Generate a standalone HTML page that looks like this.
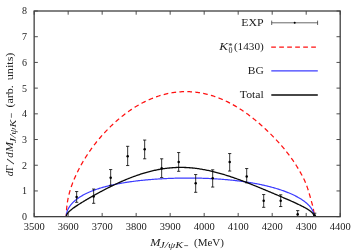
<!DOCTYPE html>
<html><head><meta charset="utf-8"><title>plot</title>
<style>
html,body{margin:0;padding:0;background:#fff;}
body{width:360px;height:252px;overflow:hidden;font-family:"Liberation Serif",serif;}
svg{display:block;will-change:transform;}
text{font-family:"Liberation Serif",serif;fill:#1c1c1c;}
.i{font-style:italic;}
</style></head><body>
<svg width="360" height="252" viewBox="0 0 360 252">
<rect width="360" height="252" fill="#fff"/>
<path d="M34.15,216.65 v-3.7 M34.15,11.0 v3.7 M68.16,216.65 v-3.7 M68.16,11.0 v3.7 M102.16,216.65 v-3.7 M102.16,11.0 v3.7 M136.17,216.65 v-3.7 M136.17,11.0 v3.7 M170.17,216.65 v-3.7 M170.17,11.0 v3.7 M204.18,216.65 v-3.7 M204.18,11.0 v3.7 M238.18,216.65 v-3.7 M238.18,11.0 v3.7 M272.19,216.65 v-3.7 M272.19,11.0 v3.7 M306.19,216.65 v-3.7 M306.19,11.0 v3.7 M340.20,216.65 v-3.7 M340.20,11.0 v3.7 M34.15,216.65 h3.7 M340.2,216.65 h-3.7 M34.15,190.94 h3.7 M340.2,190.94 h-3.7 M34.15,165.24 h3.7 M340.2,165.24 h-3.7 M34.15,139.53 h3.7 M340.2,139.53 h-3.7 M34.15,113.83 h3.7 M340.2,113.83 h-3.7 M34.15,88.12 h3.7 M340.2,88.12 h-3.7 M34.15,62.41 h3.7 M340.2,62.41 h-3.7 M34.15,36.71 h3.7 M340.2,36.71 h-3.7 M34.15,11.00 h3.7 M340.2,11.00 h-3.7" stroke="#000" stroke-width="0.7" fill="none"/>
<path d="M66.30,216.65 L66.30,215.79 L66.32,214.94 L66.33,214.08 L66.36,213.23 L66.40,212.37 L66.44,211.52 L66.49,210.67 L66.55,209.81 L66.61,208.96 L66.68,208.12 L66.76,207.27 L66.85,206.43 L66.95,205.58 L67.05,204.74 L67.16,203.90 L67.28,203.07 L67.41,202.24 L67.54,201.40 L67.68,200.58 L67.83,199.75 L67.99,198.92 L68.15,198.10 L68.33,197.28 L68.51,196.47 L68.69,195.65 L68.89,194.84 L69.09,194.03 L69.30,193.22 L69.52,192.42 L69.74,191.61 L69.97,190.81 L70.21,190.01 L70.46,189.20 L70.71,188.40 L70.97,187.61 L71.24,186.81 L71.52,186.01 L71.80,185.21 L72.10,184.41 L72.39,183.61 L72.70,182.81 L73.01,182.01 L73.33,181.21 L73.66,180.41 L74.00,179.61 L74.34,178.80 L74.69,177.99 L75.04,177.18 L75.41,176.37 L75.78,175.56 L76.16,174.74 L76.54,173.92 L76.93,173.10 L77.33,172.27 L77.74,171.45 L78.15,170.62 L78.57,169.79 L79.00,168.95 L79.43,168.12 L79.87,167.28 L80.32,166.44 L80.77,165.61 L81.23,164.77 L81.70,163.93 L82.18,163.09 L82.66,162.25 L83.14,161.42 L83.64,160.58 L84.14,159.74 L84.65,158.91 L85.16,158.08 L85.68,157.24 L86.21,156.41 L86.74,155.58 L87.28,154.75 L87.83,153.92 L88.38,153.09 L88.94,152.27 L89.51,151.44 L90.08,150.62 L90.66,149.80 L91.24,148.98 L91.83,148.16 L92.43,147.35 L93.03,146.54 L93.64,145.72 L94.25,144.92 L94.87,144.11 L95.50,143.30 L96.13,142.50 L96.77,141.70 L97.41,140.91 L98.06,140.11 L98.71,139.32 L99.37,138.53 L100.04,137.75 L100.71,136.97 L101.39,136.19 L102.07,135.41 L102.76,134.64 L103.46,133.87 L104.16,133.10 L104.86,132.34 L105.57,131.58 L106.28,130.83 L107.01,130.08 L107.73,129.33 L108.46,128.59 L109.20,127.85 L109.94,127.11 L110.68,126.38 L111.43,125.66 L112.19,124.94 L112.95,124.22 L113.71,123.51 L114.48,122.80 L115.26,122.10 L116.04,121.40 L116.82,120.71 L117.61,120.03 L118.40,119.35 L119.20,118.67 L120.00,118.00 L120.81,117.34 L121.62,116.68 L122.43,116.03 L123.25,115.39 L124.07,114.75 L124.90,114.12 L125.73,113.50 L126.57,112.88 L127.41,112.27 L128.25,111.66 L129.10,111.06 L129.95,110.47 L130.80,109.89 L131.66,109.31 L132.52,108.75 L133.39,108.18 L134.26,107.63 L135.13,107.09 L136.00,106.55 L136.88,106.02 L137.76,105.50 L138.65,104.99 L139.54,104.48 L140.43,103.98 L141.32,103.50 L142.22,103.02 L143.12,102.55 L144.03,102.08 L144.93,101.63 L145.84,101.19 L146.76,100.75 L147.67,100.33 L148.59,99.91 L149.51,99.51 L150.43,99.11 L151.36,98.72 L152.28,98.34 L153.21,97.97 L154.15,97.61 L155.08,97.26 L156.02,96.93 L156.96,96.60 L157.90,96.28 L158.84,95.97 L159.78,95.67 L160.73,95.38 L161.68,95.10 L162.63,94.83 L163.58,94.58 L164.54,94.33 L165.49,94.09 L166.45,93.87 L167.41,93.65 L168.36,93.45 L169.33,93.25 L170.29,93.07 L171.25,92.90 L172.22,92.74 L173.18,92.59 L174.15,92.45 L175.12,92.32 L176.09,92.20 L177.05,92.09 L178.03,92.00 L179.00,91.91 L179.97,91.84 L180.94,91.78 L181.91,91.73 L182.89,91.69 L183.86,91.66 L184.84,91.64 L185.81,91.63 L186.79,91.64 L187.76,91.65 L188.74,91.68 L189.71,91.72 L190.69,91.77 L191.66,91.83 L192.64,91.90 L193.61,91.98 L194.59,92.07 L195.56,92.18 L196.54,92.30 L197.51,92.42 L198.49,92.56 L199.46,92.71 L200.43,92.87 L201.40,93.04 L202.37,93.23 L203.35,93.42 L204.31,93.62 L205.28,93.84 L206.25,94.07 L207.22,94.30 L208.18,94.55 L209.15,94.81 L210.11,95.08 L211.07,95.36 L212.04,95.65 L212.99,95.95 L213.95,96.26 L214.91,96.58 L215.86,96.92 L216.82,97.26 L217.77,97.61 L218.72,97.97 L219.67,98.35 L220.62,98.73 L221.56,99.12 L222.50,99.53 L223.44,99.94 L224.38,100.36 L225.32,100.79 L226.25,101.23 L227.19,101.68 L228.12,102.14 L229.04,102.61 L229.97,103.09 L230.89,103.57 L231.81,104.07 L232.73,104.57 L233.64,105.09 L234.56,105.61 L235.47,106.14 L236.37,106.67 L237.28,107.22 L238.18,107.77 L239.08,108.34 L239.97,108.91 L240.86,109.48 L241.75,110.07 L242.64,110.66 L243.52,111.26 L244.40,111.87 L245.27,112.48 L246.14,113.10 L247.01,113.73 L247.88,114.36 L248.74,115.00 L249.60,115.65 L250.45,116.30 L251.30,116.96 L252.15,117.62 L252.99,118.28 L253.83,118.96 L254.67,119.63 L255.50,120.31 L256.33,121.00 L257.15,121.69 L257.97,122.38 L258.78,123.08 L259.59,123.78 L260.40,124.48 L261.20,125.19 L262.00,125.90 L262.79,126.62 L263.58,127.33 L264.36,128.05 L265.14,128.77 L265.92,129.50 L266.69,130.23 L267.45,130.95 L268.21,131.69 L268.97,132.42 L269.72,133.15 L270.46,133.89 L271.20,134.63 L271.94,135.37 L272.67,136.11 L273.39,136.85 L274.12,137.59 L274.83,138.34 L275.54,139.08 L276.24,139.83 L276.94,140.58 L277.64,141.33 L278.33,142.09 L279.01,142.84 L279.69,143.60 L280.36,144.36 L281.03,145.12 L281.69,145.88 L282.34,146.64 L282.99,147.41 L283.63,148.18 L284.27,148.95 L284.90,149.72 L285.53,150.50 L286.15,151.27 L286.76,152.05 L287.37,152.83 L287.97,153.61 L288.57,154.40 L289.16,155.18 L289.74,155.97 L290.32,156.75 L290.89,157.54 L291.46,158.33 L292.02,159.12 L292.57,159.92 L293.12,160.71 L293.66,161.50 L294.19,162.30 L294.72,163.09 L295.24,163.89 L295.75,164.68 L296.26,165.48 L296.76,166.28 L297.26,167.07 L297.74,167.87 L298.22,168.67 L298.70,169.46 L299.17,170.26 L299.63,171.05 L300.08,171.84 L300.53,172.64 L300.97,173.43 L301.40,174.22 L301.83,175.01 L302.25,175.80 L302.66,176.58 L303.07,177.37 L303.47,178.17 L303.86,178.97 L304.24,179.78 L304.62,180.61 L304.99,181.44 L305.36,182.29 L305.71,183.16 L306.06,184.03 L306.40,184.92 L306.74,185.82 L307.07,186.74 L307.39,187.66 L307.70,188.59 L308.01,189.52 L308.30,190.46 L308.60,191.41 L308.88,192.35 L309.16,193.29 L309.43,194.22 L309.69,195.14 L309.94,196.04 L310.19,196.92 L310.43,197.77 L310.66,198.59 L310.88,199.39 L311.10,200.16 L311.31,200.91 L311.51,201.63 L311.71,202.33 L311.89,203.00 L312.07,203.66 L312.25,204.29 L312.41,204.91 L312.57,205.51 L312.72,206.10 L312.86,206.68 L312.99,207.25 L313.12,207.81 L313.24,208.37 L313.35,208.92 L313.45,209.47 L313.55,210.02 L313.64,210.56 L313.72,211.11 L313.79,211.66 L313.85,212.21 L313.91,212.76 L313.96,213.31 L314.00,213.86 L314.04,214.42 L314.07,214.97 L314.08,215.53 L314.10,216.09 L314.10,216.65" stroke="#ff1010" stroke-width="1.25" stroke-dasharray="4.682 3.287" stroke-dashoffset="1.66" fill="none"/>
<path d="M66.30,216.65 L66.30,216.30 L66.32,215.95 L66.33,215.60 L66.36,215.25 L66.40,214.90 L66.44,214.55 L66.49,214.20 L66.55,213.85 L66.61,213.51 L66.68,213.16 L66.76,212.81 L66.85,212.46 L66.95,212.12 L67.05,211.77 L67.16,211.42 L67.28,211.08 L67.41,210.73 L67.54,210.39 L67.68,210.05 L67.83,209.70 L67.99,209.36 L68.15,209.02 L68.33,208.68 L68.51,208.34 L68.69,208.01 L68.89,207.67 L69.09,207.33 L69.30,207.00 L69.52,206.67 L69.74,206.33 L69.97,206.00 L70.21,205.67 L70.46,205.34 L70.71,205.01 L70.97,204.69 L71.24,204.36 L71.52,204.04 L71.80,203.72 L72.10,203.40 L72.39,203.08 L72.70,202.76 L73.01,202.44 L73.33,202.13 L73.66,201.81 L74.00,201.50 L74.34,201.19 L74.69,200.88 L75.04,200.58 L75.41,200.27 L75.78,199.97 L76.16,199.67 L76.54,199.37 L76.93,199.07 L77.33,198.77 L77.74,198.48 L78.15,198.19 L78.57,197.90 L79.00,197.61 L79.43,197.32 L79.87,197.04 L80.32,196.75 L80.77,196.47 L81.23,196.19 L81.70,195.92 L82.18,195.64 L82.66,195.37 L83.14,195.10 L83.64,194.83 L84.14,194.56 L84.65,194.30 L85.16,194.04 L85.68,193.78 L86.21,193.52 L86.74,193.26 L87.28,193.01 L87.83,192.76 L88.38,192.51 L88.94,192.26 L89.51,192.01 L90.08,191.77 L90.66,191.53 L91.24,191.29 L91.83,191.06 L92.43,190.82 L93.03,190.59 L93.64,190.36 L94.25,190.13 L94.87,189.91 L95.50,189.69 L96.13,189.47 L96.77,189.25 L97.41,189.03 L98.06,188.82 L98.71,188.61 L99.37,188.40 L100.04,188.19 L100.71,187.98 L101.39,187.78 L102.07,187.58 L102.76,187.38 L103.46,187.19 L104.16,186.99 L104.86,186.80 L105.57,186.61 L106.28,186.43 L107.01,186.24 L107.73,186.06 L108.46,185.88 L109.20,185.70 L109.94,185.52 L110.68,185.35 L111.43,185.18 L112.19,185.01 L112.95,184.84 L113.71,184.68 L114.48,184.51 L115.26,184.35 L116.04,184.20 L116.82,184.04 L117.61,183.88 L118.40,183.73 L119.20,183.58 L120.00,183.44 L120.81,183.29 L121.62,183.15 L122.43,183.00 L123.25,182.87 L124.07,182.73 L124.90,182.59 L125.73,182.46 L126.57,182.33 L127.41,182.20 L128.25,182.07 L129.10,181.95 L129.95,181.83 L130.80,181.71 L131.66,181.59 L132.52,181.47 L133.39,181.36 L134.26,181.24 L135.13,181.13 L136.00,181.02 L136.88,180.92 L137.76,180.81 L138.65,180.71 L139.54,180.61 L140.43,180.51 L141.32,180.41 L142.22,180.32 L143.12,180.23 L144.03,180.14 L144.93,180.05 L145.84,179.96 L146.76,179.88 L147.67,179.79 L148.59,179.71 L149.51,179.63 L150.43,179.56 L151.36,179.48 L152.28,179.41 L153.21,179.34 L154.15,179.27 L155.08,179.20 L156.02,179.13 L156.96,179.07 L157.90,179.01 L158.84,178.95 L159.78,178.89 L160.73,178.83 L161.68,178.78 L162.63,178.73 L163.58,178.68 L164.54,178.63 L165.49,178.58 L166.45,178.54 L167.41,178.50 L168.36,178.45 L169.33,178.42 L170.29,178.38 L171.25,178.34 L172.22,178.31 L173.18,178.28 L174.15,178.25 L175.12,178.22 L176.09,178.20 L177.05,178.17 L178.03,178.15 L179.00,178.13 L179.97,178.11 L180.94,178.10 L181.91,178.08 L182.89,178.07 L183.86,178.06 L184.84,178.06 L185.81,178.05 L186.79,178.05 L187.76,178.04 L188.74,178.04 L189.71,178.04 L190.69,178.05 L191.66,178.05 L192.64,178.06 L193.61,178.07 L194.59,178.08 L195.56,178.10 L196.54,178.11 L197.51,178.13 L198.49,178.15 L199.46,178.17 L200.43,178.20 L201.40,178.22 L202.37,178.25 L203.35,178.28 L204.31,178.31 L205.28,178.35 L206.25,178.39 L207.22,178.42 L208.18,178.46 L209.15,178.51 L210.11,178.55 L211.07,178.60 L212.04,178.65 L212.99,178.70 L213.95,178.75 L214.91,178.81 L215.86,178.86 L216.82,178.92 L217.77,178.99 L218.72,179.05 L219.67,179.12 L220.62,179.18 L221.56,179.25 L222.50,179.33 L223.44,179.40 L224.38,179.48 L225.32,179.56 L226.25,179.64 L227.19,179.72 L228.12,179.81 L229.04,179.90 L229.97,179.99 L230.89,180.08 L231.81,180.17 L232.73,180.27 L233.64,180.37 L234.56,180.47 L235.47,180.57 L236.37,180.68 L237.28,180.79 L238.18,180.90 L239.08,181.01 L239.97,181.12 L240.86,181.24 L241.75,181.36 L242.64,181.48 L243.52,181.60 L244.40,181.73 L245.27,181.85 L246.14,181.98 L247.01,182.12 L247.88,182.25 L248.74,182.39 L249.60,182.52 L250.45,182.67 L251.30,182.81 L252.15,182.95 L252.99,183.10 L253.83,183.25 L254.67,183.40 L255.50,183.56 L256.33,183.71 L257.15,183.87 L257.97,184.03 L258.78,184.19 L259.59,184.36 L260.40,184.52 L261.20,184.69 L262.00,184.86 L262.79,185.04 L263.58,185.21 L264.36,185.39 L265.14,185.57 L265.92,185.75 L266.69,185.93 L267.45,186.12 L268.21,186.30 L268.97,186.49 L269.72,186.68 L270.46,186.88 L271.20,187.07 L271.94,187.27 L272.67,187.47 L273.39,187.67 L274.12,187.87 L274.83,188.08 L275.54,188.29 L276.24,188.50 L276.94,188.71 L277.64,188.92 L278.33,189.13 L279.01,189.35 L279.69,189.57 L280.36,189.79 L281.03,190.01 L281.69,190.23 L282.34,190.46 L282.99,190.69 L283.63,190.92 L284.27,191.15 L284.90,191.38 L285.53,191.61 L286.15,191.85 L286.76,192.09 L287.37,192.33 L287.97,192.57 L288.57,192.81 L289.16,193.05 L289.74,193.30 L290.32,193.54 L290.89,193.79 L291.46,194.04 L292.02,194.29 L292.57,194.55 L293.12,194.80 L293.66,195.06 L294.19,195.32 L294.72,195.57 L295.24,195.83 L295.75,196.10 L296.26,196.36 L296.76,196.62 L297.26,196.89 L297.74,197.16 L298.22,197.42 L298.70,197.69 L299.17,197.96 L299.63,198.24 L300.08,198.51 L300.53,198.78 L300.97,199.06 L301.40,199.33 L301.83,199.61 L302.25,199.89 L302.66,200.17 L303.07,200.45 L303.47,200.73 L303.86,201.02 L304.24,201.30 L304.62,201.59 L304.99,201.87 L305.36,202.16 L305.71,202.45 L306.06,202.73 L306.40,203.02 L306.74,203.31 L307.07,203.61 L307.39,203.90 L307.70,204.19 L308.01,204.48 L308.30,204.78 L308.60,205.07 L308.88,205.37 L309.16,205.67 L309.43,205.96 L309.69,206.26 L309.94,206.56 L310.19,206.86 L310.43,207.16 L310.66,207.46 L310.88,207.76 L311.10,208.06 L311.31,208.36 L311.51,208.67 L311.71,208.97 L311.89,209.27 L312.07,209.58 L312.25,209.88 L312.41,210.19 L312.57,210.49 L312.72,210.80 L312.86,211.10 L312.99,211.41 L313.12,211.72 L313.24,212.02 L313.35,212.33 L313.45,212.64 L313.55,212.95 L313.64,213.25 L313.72,213.56 L313.79,213.87 L313.85,214.18 L313.91,214.49 L313.96,214.80 L314.00,215.10 L314.04,215.41 L314.07,215.72 L314.08,216.03 L314.10,216.34 L314.10,216.65" stroke="#3c3cff" stroke-width="1.2" fill="none"/>
<path d="M66.30,216.65 L66.30,216.47 L66.32,216.29 L66.33,216.11 L66.36,215.93 L66.40,215.75 L66.44,215.57 L66.49,215.39 L66.55,215.21 L66.61,215.03 L66.68,214.85 L66.76,214.66 L66.85,214.48 L66.95,214.29 L67.05,214.11 L67.16,213.92 L67.28,213.74 L67.41,213.55 L67.54,213.36 L67.68,213.17 L67.83,212.97 L67.99,212.78 L68.15,212.59 L68.33,212.39 L68.51,212.19 L68.69,211.99 L68.89,211.79 L69.09,211.59 L69.30,211.39 L69.52,211.18 L69.74,210.97 L69.97,210.77 L70.21,210.55 L70.46,210.34 L70.71,210.13 L70.97,209.91 L71.24,209.69 L71.52,209.47 L71.80,209.24 L72.10,209.02 L72.39,208.79 L72.70,208.56 L73.01,208.33 L73.33,208.09 L73.66,207.85 L74.00,207.61 L74.34,207.37 L74.69,207.13 L75.04,206.88 L75.41,206.63 L75.78,206.38 L76.16,206.12 L76.54,205.87 L76.93,205.61 L77.33,205.34 L77.74,205.08 L78.15,204.81 L78.57,204.54 L79.00,204.27 L79.43,203.99 L79.87,203.71 L80.32,203.43 L80.77,203.15 L81.23,202.86 L81.70,202.57 L82.18,202.28 L82.66,201.98 L83.14,201.69 L83.64,201.39 L84.14,201.08 L84.65,200.78 L85.16,200.47 L85.68,200.16 L86.21,199.85 L86.74,199.53 L87.28,199.22 L87.83,198.90 L88.38,198.57 L88.94,198.25 L89.51,197.92 L90.08,197.59 L90.66,197.26 L91.24,196.93 L91.83,196.59 L92.43,196.25 L93.03,195.91 L93.64,195.57 L94.25,195.23 L94.87,194.88 L95.50,194.53 L96.13,194.18 L96.77,193.83 L97.41,193.48 L98.06,193.13 L98.71,192.77 L99.37,192.41 L100.04,192.05 L100.71,191.69 L101.39,191.33 L102.07,190.97 L102.76,190.61 L103.46,190.24 L104.16,189.88 L104.86,189.51 L105.57,189.14 L106.28,188.78 L107.01,188.41 L107.73,188.04 L108.46,187.67 L109.20,187.30 L109.94,186.93 L110.68,186.57 L111.43,186.20 L112.19,185.83 L112.95,185.46 L113.71,185.09 L114.48,184.72 L115.26,184.36 L116.04,183.99 L116.82,183.63 L117.61,183.26 L118.40,182.90 L119.20,182.54 L120.00,182.18 L120.81,181.82 L121.62,181.46 L122.43,181.10 L123.25,180.75 L124.07,180.40 L124.90,180.05 L125.73,179.70 L126.57,179.35 L127.41,179.01 L128.25,178.67 L129.10,178.33 L129.95,177.99 L130.80,177.66 L131.66,177.33 L132.52,177.01 L133.39,176.68 L134.26,176.36 L135.13,176.05 L136.00,175.74 L136.88,175.43 L137.76,175.12 L138.65,174.82 L139.54,174.53 L140.43,174.23 L141.32,173.95 L142.22,173.66 L143.12,173.39 L144.03,173.11 L144.93,172.84 L145.84,172.58 L146.76,172.32 L147.67,172.07 L148.59,171.82 L149.51,171.58 L150.43,171.35 L151.36,171.12 L152.28,170.89 L153.21,170.67 L154.15,170.46 L155.08,170.26 L156.02,170.06 L156.96,169.86 L157.90,169.68 L158.84,169.50 L159.78,169.32 L160.73,169.16 L161.68,169.00 L162.63,168.85 L163.58,168.70 L164.54,168.56 L165.49,168.43 L166.45,168.31 L167.41,168.19 L168.36,168.09 L169.33,167.99 L170.29,167.89 L171.25,167.81 L172.22,167.73 L173.18,167.66 L174.15,167.60 L175.12,167.55 L176.09,167.51 L177.05,167.47 L178.03,167.44 L179.00,167.42 L179.97,167.41 L180.94,167.41 L181.91,167.41 L182.89,167.43 L183.86,167.45 L184.84,167.48 L185.81,167.52 L186.79,167.56 L187.76,167.62 L188.74,167.68 L189.71,167.75 L190.69,167.83 L191.66,167.92 L192.64,168.01 L193.61,168.11 L194.59,168.22 L195.56,168.34 L196.54,168.46 L197.51,168.59 L198.49,168.73 L199.46,168.88 L200.43,169.03 L201.40,169.19 L202.37,169.35 L203.35,169.52 L204.31,169.70 L205.28,169.89 L206.25,170.08 L207.22,170.27 L208.18,170.48 L209.15,170.69 L210.11,170.90 L211.07,171.12 L212.04,171.35 L212.99,171.58 L213.95,171.81 L214.91,172.05 L215.86,172.30 L216.82,172.55 L217.77,172.81 L218.72,173.07 L219.67,173.33 L220.62,173.60 L221.56,173.87 L222.50,174.15 L223.44,174.43 L224.38,174.71 L225.32,175.00 L226.25,175.29 L227.19,175.59 L228.12,175.89 L229.04,176.19 L229.97,176.49 L230.89,176.80 L231.81,177.11 L232.73,177.42 L233.64,177.73 L234.56,178.05 L235.47,178.37 L236.37,178.69 L237.28,179.01 L238.18,179.33 L239.08,179.66 L239.97,179.98 L240.86,180.31 L241.75,180.64 L242.64,180.97 L243.52,181.30 L244.40,181.64 L245.27,181.97 L246.14,182.31 L247.01,182.64 L247.88,182.98 L248.74,183.31 L249.60,183.65 L250.45,183.98 L251.30,184.32 L252.15,184.66 L252.99,184.99 L253.83,185.33 L254.67,185.66 L255.50,186.00 L256.33,186.33 L257.15,186.67 L257.97,187.00 L258.78,187.33 L259.59,187.66 L260.40,187.99 L261.20,188.32 L262.00,188.65 L262.79,188.98 L263.58,189.31 L264.36,189.63 L265.14,189.96 L265.92,190.28 L266.69,190.60 L267.45,190.92 L268.21,191.24 L268.97,191.56 L269.72,191.87 L270.46,192.19 L271.20,192.50 L271.94,192.81 L272.67,193.12 L273.39,193.43 L274.12,193.73 L274.83,194.03 L275.54,194.34 L276.24,194.64 L276.94,194.93 L277.64,195.23 L278.33,195.52 L279.01,195.81 L279.69,196.10 L280.36,196.39 L281.03,196.68 L281.69,196.96 L282.34,197.24 L282.99,197.52 L283.63,197.80 L284.27,198.07 L284.90,198.35 L285.53,198.62 L286.15,198.89 L286.76,199.15 L287.37,199.42 L287.97,199.68 L288.57,199.94 L289.16,200.20 L289.74,200.46 L290.32,200.71 L290.89,200.97 L291.46,201.22 L292.02,201.47 L292.57,201.71 L293.12,201.96 L293.66,202.20 L294.19,202.44 L294.72,202.68 L295.24,202.92 L295.75,203.15 L296.26,203.39 L296.76,203.62 L297.26,203.85 L297.74,204.08 L298.22,204.30 L298.70,204.53 L299.17,204.75 L299.63,204.97 L300.08,205.19 L300.53,205.41 L300.97,205.63 L301.40,205.84 L301.83,206.06 L302.25,206.27 L302.66,206.48 L303.07,206.69 L303.47,206.89 L303.86,207.10 L304.24,207.31 L304.62,207.51 L304.99,207.71 L305.36,207.91 L305.71,208.11 L306.06,208.31 L306.40,208.51 L306.74,208.71 L307.07,208.90 L307.39,209.10 L307.70,209.29 L308.01,209.48 L308.30,209.67 L308.60,209.86 L308.88,210.05 L309.16,210.24 L309.43,210.43 L309.69,210.62 L309.94,210.80 L310.19,210.99 L310.43,211.17 L310.66,211.36 L310.88,211.54 L311.10,211.72 L311.31,211.90 L311.51,212.08 L311.71,212.26 L311.89,212.44 L312.07,212.62 L312.25,212.80 L312.41,212.98 L312.57,213.16 L312.72,213.34 L312.86,213.51 L312.99,213.69 L313.12,213.86 L313.24,214.04 L313.35,214.22 L313.45,214.39 L313.55,214.57 L313.64,214.74 L313.72,214.92 L313.79,215.09 L313.85,215.26 L313.91,215.44 L313.96,215.61 L314.00,215.78 L314.04,215.96 L314.07,216.13 L314.08,216.30 L314.10,216.48 L314.10,216.65" stroke="#0a0a0a" stroke-width="1.3" fill="none"/>
<path d="M76.65,191.55 V202.3 M75.05,191.55 h3.2 M75.05,202.3 h3.2 M93.65,189.05 V203.3 M92.05,189.05 h3.2 M92.05,203.3 h3.2 M110.66,169.55 V185.3 M109.06,169.55 h3.2 M109.06,185.3 h3.2 M127.66,146.3 V165.55 M126.06,146.3 h3.2 M126.06,165.55 h3.2 M144.67,140.05 V158.8 M143.07,140.05 h3.2 M143.07,158.8 h3.2 M161.67,158.8 V177.55 M160.07,158.8 h3.2 M160.07,177.55 h3.2 M178.67,152.55 V171.3 M177.07,152.55 h3.2 M177.07,171.3 h3.2 M195.68,174.55 V192.3 M194.08,174.55 h3.2 M194.08,192.3 h3.2 M212.68,169.8 V187.05 M211.08,169.8 h3.2 M211.08,187.05 h3.2 M229.69,153.55 V171.05 M228.09,153.55 h3.2 M228.09,171.05 h3.2 M246.69,168.55 V182.8 M245.09,168.55 h3.2 M245.09,182.8 h3.2 M263.69,194.55 V207.3 M262.09,194.55 h3.2 M262.09,207.3 h3.2 M280.70,194.8 V206.55 M279.10,194.8 h3.2 M279.10,206.55 h3.2 M297.70,210.60000000000002 V216.3 M296.10,210.60000000000002 h3.2 M296.10,216.3 h3.2 M314.71,213.20000000000002 V216.3 M313.11,213.20000000000002 h3.2 M313.11,216.3 h3.2" stroke="#000" stroke-width="0.8" fill="none"/>
<circle cx="76.65" cy="197.05" r="1.25" fill="#000"/><circle cx="93.65" cy="196.55" r="1.25" fill="#000"/><circle cx="110.66" cy="177.8" r="1.25" fill="#000"/><circle cx="127.66" cy="156.3" r="1.25" fill="#000"/><circle cx="144.67" cy="149.3" r="1.25" fill="#000"/><circle cx="161.67" cy="168.3" r="1.25" fill="#000"/><circle cx="178.67" cy="162.05" r="1.25" fill="#000"/><circle cx="195.68" cy="183.3" r="1.25" fill="#000"/><circle cx="212.68" cy="178.3" r="1.25" fill="#000"/><circle cx="229.69" cy="162.05" r="1.25" fill="#000"/><circle cx="246.69" cy="176.55" r="1.25" fill="#000"/><circle cx="263.69" cy="200.8" r="1.25" fill="#000"/><circle cx="280.70" cy="200.8" r="1.25" fill="#000"/><circle cx="297.70" cy="214.3" r="1.25" fill="#000"/><circle cx="314.71" cy="215.60000000000002" r="1.25" fill="#000"/>
<rect x="34.15" y="11.0" width="306.05" height="205.65" stroke="#404040" stroke-width="1.3" fill="none"/>
<text x="34.15" y="230.3" font-size="10" text-anchor="middle" textLength="21" lengthAdjust="spacingAndGlyphs">3500</text><text x="68.16" y="230.3" font-size="10" text-anchor="middle" textLength="21" lengthAdjust="spacingAndGlyphs">3600</text><text x="102.16" y="230.3" font-size="10" text-anchor="middle" textLength="21" lengthAdjust="spacingAndGlyphs">3700</text><text x="136.17" y="230.3" font-size="10" text-anchor="middle" textLength="21" lengthAdjust="spacingAndGlyphs">3800</text><text x="170.17" y="230.3" font-size="10" text-anchor="middle" textLength="21" lengthAdjust="spacingAndGlyphs">3900</text><text x="204.18" y="230.3" font-size="10" text-anchor="middle" textLength="21" lengthAdjust="spacingAndGlyphs">4000</text><text x="238.18" y="230.3" font-size="10" text-anchor="middle" textLength="21" lengthAdjust="spacingAndGlyphs">4100</text><text x="272.19" y="230.3" font-size="10" text-anchor="middle" textLength="21" lengthAdjust="spacingAndGlyphs">4200</text><text x="306.19" y="230.3" font-size="10" text-anchor="middle" textLength="21" lengthAdjust="spacingAndGlyphs">4300</text><text x="340.20" y="230.3" font-size="10" text-anchor="middle" textLength="21" lengthAdjust="spacingAndGlyphs">4400</text><text x="27" y="220.05" font-size="10" text-anchor="end">0</text><text x="27" y="194.34" font-size="10" text-anchor="end">1</text><text x="27" y="168.64" font-size="10" text-anchor="end">2</text><text x="27" y="142.93" font-size="10" text-anchor="end">3</text><text x="27" y="117.23" font-size="10" text-anchor="end">4</text><text x="27" y="91.52" font-size="10" text-anchor="end">5</text><text x="27" y="65.81" font-size="10" text-anchor="end">6</text><text x="27" y="40.11" font-size="10" text-anchor="end">7</text><text x="27" y="14.40" font-size="10" text-anchor="end">8</text>
<text x="263.7" y="25.7" font-size="10.8" text-anchor="end" textLength="22.4" lengthAdjust="spacingAndGlyphs">EXP</text>
<path d="M271.7,22.8 H317.6 M271.7,20.6 v4.4 M317.6,20.6 v4.4" stroke="#000" stroke-width="0.6" fill="none"/><circle cx="294.7" cy="22.8" r="1" fill="#000"/>
<text x="219.3" y="49.5" font-size="10.8" class="i" textLength="8.7" lengthAdjust="spacingAndGlyphs">K</text><text x="228.3" y="49.0" font-size="8.8">*</text><text x="228.4" y="52.9" font-size="8">0</text><text x="233.9" y="49.5" font-size="10.8" textLength="29.9" lengthAdjust="spacingAndGlyphs">(1430)</text>
<path d="M271.2,47 H317.8" stroke="#ff1010" stroke-width="1.25" stroke-dasharray="4.7 3.3" fill="none"/>
<text x="263.8" y="74.4" font-size="10.8" text-anchor="end" textLength="16.0" lengthAdjust="spacingAndGlyphs">BG</text>
<path d="M271.3,70.85 H317.8" stroke="#3c3cff" stroke-width="1.2" fill="none"/>
<text x="263.8" y="98.4" font-size="10.8" text-anchor="end" textLength="24.0" lengthAdjust="spacingAndGlyphs">Total</text>
<path d="M271.3,95.0 H317.8" stroke="#0a0a0a" stroke-width="1.3" fill="none"/>
<text x="150.3" y="246.4" font-size="10.8" class="i" textLength="10.2" lengthAdjust="spacingAndGlyphs">M</text><text x="159.6" y="247.9" font-size="7.6" class="i" textLength="23.6" lengthAdjust="spacingAndGlyphs">J/ψK</text><path d="M184.2,245.6 h3.9" stroke="#000" stroke-width="0.55"/><text x="194.0" y="246.4" font-size="10.8" textLength="30.0" lengthAdjust="spacingAndGlyphs">(MeV)</text>
<g transform="translate(13.0,176.2) rotate(-90)"><text x="0" y="0" font-size="10.8" class="i" textLength="5.2" lengthAdjust="spacingAndGlyphs">d</text><text x="5.3" y="0" font-size="10.8" textLength="6.0" lengthAdjust="spacingAndGlyphs">Γ</text><text x="11.6" y="0" font-size="10.8" textLength="6.0" lengthAdjust="spacingAndGlyphs" transform="translate(0,1.2)">/</text><text x="18.4" y="0" font-size="10.8" class="i" textLength="5.4" lengthAdjust="spacingAndGlyphs">d</text><text x="24.1" y="0" font-size="10.8" class="i" textLength="10.0" lengthAdjust="spacingAndGlyphs">M</text><text x="32.9" y="2.9" font-size="7.6" class="i" textLength="23.6" lengthAdjust="spacingAndGlyphs">J/ψK</text><path d="M58.4,-1.6 h4.6" stroke="#000" stroke-width="0.55"/><text x="68.6" y="0" font-size="10.8" textLength="22.4" lengthAdjust="spacingAndGlyphs">(arb.</text><text x="96.0" y="0" font-size="10.8" textLength="27.6" lengthAdjust="spacingAndGlyphs">units)</text></g>
</svg></body></html>
